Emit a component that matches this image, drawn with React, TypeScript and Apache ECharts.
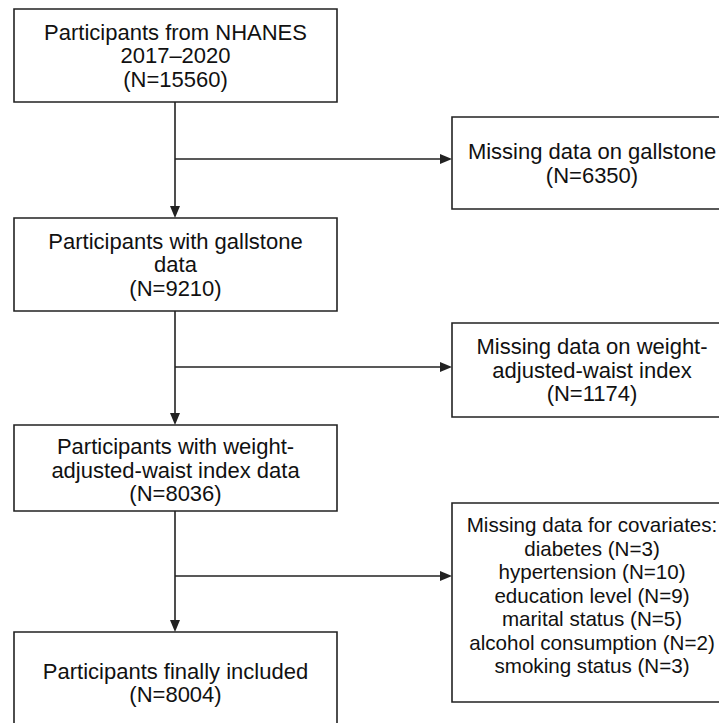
import React, { useEffect, useRef } from "react";
import * as echarts from "echarts";

// ---- data ----
const mainLabels = [
  "Participants from NHANES\n2017–2020",
  "Participants with gallstone\ndata",
  "Participants with weight-\nadjusted-waist index data",
  "Participants finally included",
];
const mainCounts = [15560, 9210, 8036, 8004];
const excludedLabels = [
  "Missing data on gallstone",
  "Missing data on weight-\nadjusted-waist index",
];
const excludedCounts = [6350, 1174];
const covariateTitle = "Missing data for covariates:";
const covariateNames = [
  "diabetes",
  "hypertension",
  "education level",
  "marital status",
  "alcohol consumption",
  "smoking status",
];
const covariateCounts = [3, 10, 9, 5, 2, 3];

// ---- layout ----
const FONT = '"Liberation Sans", Arial, Helvetica, sans-serif';
const LINE = "#222";
const TEXT = "#111";
const mainBox = { left: 14, right: 337 };
const mainRows = [
  { top: 9, bottom: 102, cy: 55.5 },
  { top: 218, bottom: 311, cy: 264.5 },
  { top: 425, bottom: 511, cy: 470 },
  { top: 632, bottom: 740, cy: 683 },
];
const sideBox = { left: 452, right: 732 };
const sideRows = [
  { top: 117, bottom: 209, cy: 163.5, arrowY: 159 },
  { top: 323, bottom: 417, cy: 370, arrowY: 367 },
  { top: 503, bottom: 702, cy: 595, arrowY: 576 },
];
const trunkX = 175;

export default function App() {
  const ref = useRef<HTMLDivElement>(null);
  useEffect(() => {
    if (!ref.current) return;
    const chart = echarts.init(ref.current, null, { renderer: "svg" });
    const els: any[] = [];
    const rect = (x1: number, y1: number, x2: number, y2: number) => ({
      type: "rect",
      shape: { x: x1, y: y1, width: x2 - x1, height: y2 - y1 },
      style: { fill: "#fff", stroke: LINE, lineWidth: 1.6 },
    });
    const line = (x1: number, y1: number, x2: number, y2: number) => ({
      type: "line",
      shape: { x1, y1, x2, y2 },
      style: { stroke: LINE, lineWidth: 1.6 },
    });
    const text = (t: string, x: number, y: number, size: number, lh: number) => ({
      type: "text",
      x,
      y,
      style: {
        text: t,
        textAlign: "center",
        textVerticalAlign: "middle",
        font: `${size}px ${FONT}`,
        lineHeight: lh,
        fill: TEXT,
      },
    });
    const cx = (mainBox.left + mainBox.right) / 2;
    const sx = (sideBox.left + sideBox.right) / 2;

    // trunk lines + down arrows
    for (let i = 0; i < mainRows.length - 1; i++) {
      const y1 = mainRows[i].bottom;
      const y2 = mainRows[i + 1].top;
      els.push(line(trunkX, y1, trunkX, y2 - 9));
      els.push({
        type: "polygon",
        shape: { points: [[trunkX - 5, y2 - 12], [trunkX + 5, y2 - 12], [trunkX, y2]] },
        style: { fill: LINE },
      });
    }
    // side arrows
    sideRows.forEach((r) => {
      els.push(line(trunkX, r.arrowY, sideBox.left - 9, r.arrowY));
      els.push({
        type: "polygon",
        shape: {
          points: [[sideBox.left - 12, r.arrowY - 5], [sideBox.left - 12, r.arrowY + 5], [sideBox.left, r.arrowY]],
        },
        style: { fill: LINE },
      });
    });
    // main boxes
    mainRows.forEach((r, i) => {
      els.push(rect(mainBox.left, r.top, mainBox.right, r.bottom));
      els.push(text(`${mainLabels[i]}\n(N=${mainCounts[i]})`, cx, r.cy, 22, 23.5));
    });
    // side boxes
    sideRows.forEach((r, i) => {
      els.push(rect(sideBox.left, r.top, sideBox.right, r.bottom));
      let t: string;
      let size = 22;
      if (i < excludedLabels.length) {
        t = `${excludedLabels[i]}\n(N=${excludedCounts[i]})`;
      } else {
        size = 20.6;
        t = [covariateTitle, ...covariateNames.map((n, k) => `${n} (N=${covariateCounts[k]})`)].join("\n");
      }
      els.push(text(t, sx, r.cy, size, 23.5));
    });

    chart.setOption({
      animation: false,
      backgroundColor: "#fff",
      graphic: { elements: els },
    });
    return () => chart.dispose();
  }, []);
  return (
    <div
      ref={ref}
      style={{ position: "absolute", left: 0, top: 0, width: 719, height: 723 }}
    />
  );
}
